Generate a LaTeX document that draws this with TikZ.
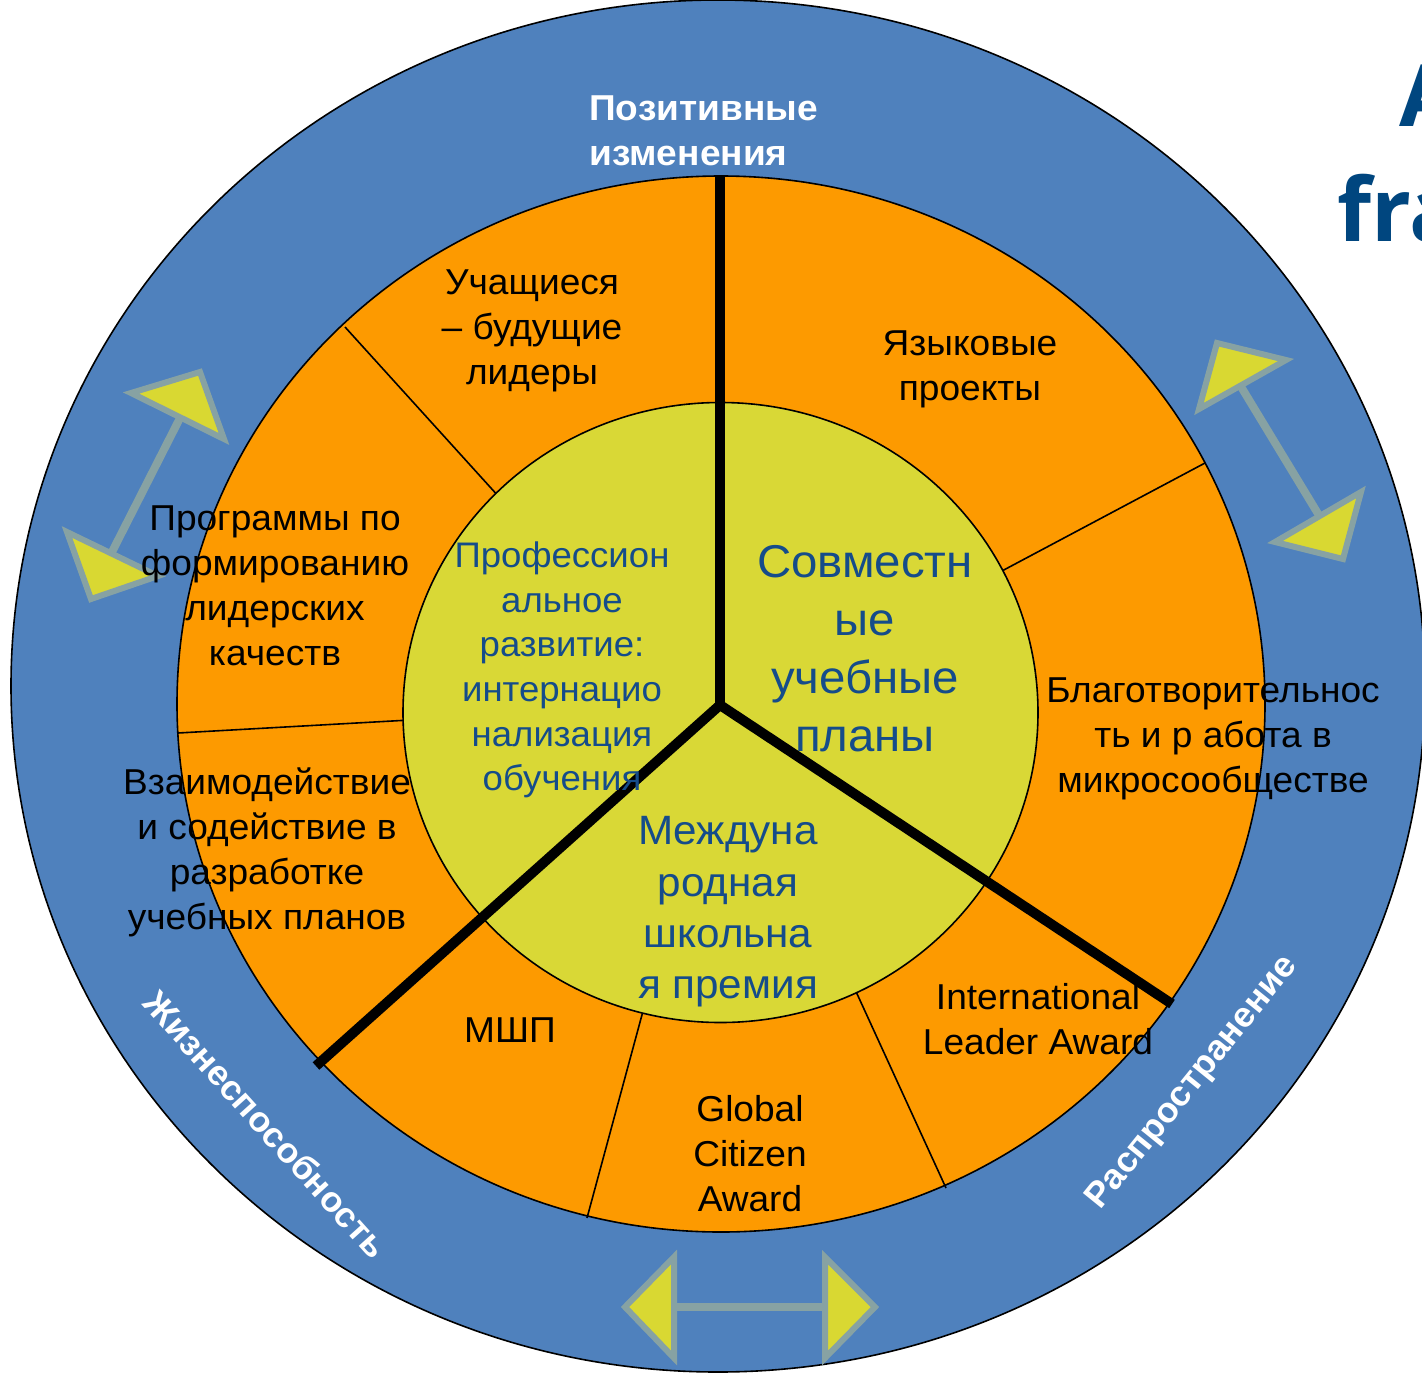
\documentclass[tikz,border=0pt]{standalone}
\usepackage{fontspec}
\setmainfont{Liberation Sans}[FakeStretch=1.03]
\newfontfamily\titlefont{Open Sans}
\definecolor{bandblue}{HTML}{4F81BD}
\definecolor{segorange}{HTML}{FD9A00}
\definecolor{hubgreen}{HTML}{D9D836}
\definecolor{arrowgray}{HTML}{87A2A3}
\definecolor{arrowfill}{HTML}{D9D832}
\definecolor{hubblue}{HTML}{154C8A}
\definecolor{titleblue}{HTML}{00467F}
\begin{document}
\begin{tikzpicture}[x=1pt,y=-1pt,
  ringline/.style={draw=black,line width=1.6pt},
  divider/.style={draw=black,line width=1.6pt},
  spoke/.style={draw=black,line width=10pt},
  shaft/.style={draw=arrowgray,line width=8pt},
  tri/.style={fill=arrowfill,draw=arrowgray,line width=6pt,line join=miter},
  seg/.style={font=\fontsize{36}{45}\selectfont,align=center,text=black,inner sep=0pt},
  hub/.style={align=center,text=hubblue,inner sep=0pt},
  band/.style={font=\bfseries\fontsize{35}{45}\selectfont,align=center,text=white,inner sep=0pt}]
\useasboundingbox (0,0) rectangle (1422,1374);
\clip (0,0) rectangle (1422,1374);
\fill[white] (0,0) rectangle (1422,1374);

% rings
\filldraw[fill=bandblue,ringline] (718,686) ellipse [x radius=707, y radius=686];
\filldraw[fill=segorange,ringline] (721,704) ellipse [x radius=544, y radius=528];

% thin dividers between segments
\coordinate (d1a) at (345,327);  \coordinate (d1b) at (500,498);
\coordinate (d2a) at (178,733);  \coordinate (d2b) at (410,720);
\coordinate (d3a) at (1205,463); \coordinate (d3b) at (1000,572);
\coordinate (d4a) at (587,1218); \coordinate (d4b) at (646,1000);
\coordinate (d5a) at (946,1188); \coordinate (d5b) at (853,985);
\draw[divider] (d1a) -- (d1b);
\draw[divider] (d2a) -- (d2b);
\draw[divider] (d3a) -- (d3b);
\draw[divider] (d4a) -- (d4b);
\draw[divider] (d5a) -- (d5b);

% hub
\filldraw[fill=hubgreen,ringline] (720.5,712.5) ellipse [x radius=317.5, y radius=310];

% thick spokes
\coordinate (hubc) at (720,705);
\coordinate (sptop) at (720,176);
\coordinate (spll) at (316,1066);
\coordinate (splr) at (1172,1004);
\draw[spoke] (hubc) -- (sptop);
\draw[spoke] (hubc) -- (spll);
\draw[spoke] (hubc) -- (splr);

% double arrows in the blue band
% upper left
\draw[shaft] (180,418) -- (112,552);
\draw[tri] (131,393) -- (200,372) -- (224,439) -- cycle;
\draw[tri] (67,532) -- (91,599) -- (158,576) -- cycle;
% upper right
\draw[shaft] (1240,385) -- (1320,517);
\draw[tri] (1217,343) -- (1286,360) -- (1199,409) -- cycle;
\draw[tri] (1361,492) -- (1343,559) -- (1275,542) -- cycle;
% bottom
\draw[shaft] (674,1307) -- (825,1307);
\draw[tri] (625,1307) -- (674,1257) -- (674,1358) -- cycle;
\draw[tri] (875,1307) -- (825,1257) -- (825,1358) -- cycle;

% band labels
\node[band,align=left,anchor=west,font=\bfseries\fontsize{36}{45}\selectfont] (pos) at (589,131) {Позитивные\\изменения};
\node[band,rotate=-48] (life) at (266,1124) {Жизнеспособность};
\node[band,rotate=51] (spread) at (1193,1083) {Распространение};

% orange segment labels
\node[seg] (leaders) at (532,331) {Учащиеся\\– будущие\\лидеры};
\node[seg] (lang) at (970,369) {Языковые\\проекты};
\node[seg] (prog) at (275,586) {Программы по\\формированию\\лидерских\\качеств};
\node[seg] (inter) at (267,852) {Взаимодействие\\и содействие в\\разработке\\учебных планов};
\node[seg] (charity) at (1213,739) {Благотворительнос\\ть и р абота в\\микросообществе};
\node[seg] (msp) at (510,1030) {МШП};
\node[seg] (gca) at (750,1154) {Global\\Citizen\\Award};
\node[seg] (ila) at (1038,1019) {International\\Leader Award};

% hub labels
\node[hub,font=\fontsize{35.5}{44.6}\selectfont] (prof) at (562,670) {Профессион\\альное\\развитие:\\интернацио\\нализация\\обучения};
\node[hub,font=\fontsize{46}{58}\selectfont] (joint) at (865,649) {Совместн\\ые\\учебные\\планы};
\node[hub,font=\fontsize{41}{51.3}\selectfont] (isa) at (728,912) {Междуна\\родная\\школьна\\я премия};

% title fragments at the right edge
\node[anchor=base west,inner sep=0pt,text=titleblue,font=\titlefont\bfseries\fontsize{86}{100}\selectfont] (ta) at (1399,126) {A};
\node[anchor=base west,inner sep=0pt,text=titleblue,font=\titlefont\bfseries\fontsize{88}{100}\selectfont] (tf) at (1337,241) {fra};
\end{tikzpicture}
\end{document}
